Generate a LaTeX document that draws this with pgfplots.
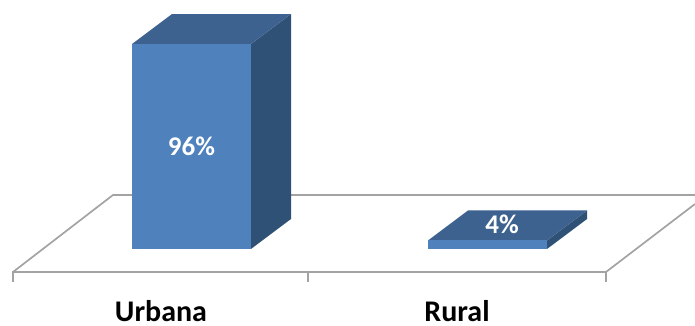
\documentclass[border=0pt]{standalone}
\usepackage{pgfplots}
\pgfplotsset{compat=1.18}
\usepackage{fontspec}
\setmainfont{Carlito}
\definecolor{barfront}{HTML}{4F81BD}
\definecolor{bartop}{HTML}{3D6290}
\definecolor{barside}{HTML}{305176}
\definecolor{floorline}{HTML}{A3A3A3}
\begin{document}
\begin{tikzpicture}[x=1pt,y=1pt]
\begin{axis}[
  scale only axis,
  width=695pt, height=326pt,
  xmin=0, xmax=695,
  ymin=-36.07, ymax=116.63,
  axis lines=none,
  clip=true,
]
% keep the whole plot area in the page
\path (rel axis cs:0,0) rectangle (rel axis cs:1,1);
% floor: back edge, side edges, front edge and its ticks
\addplot[floorline, line width=1.7pt] coordinates {(13,-10.77) (113,25.29) (695,25.29)};
\addplot[floorline, line width=1.7pt] coordinates {(606,-10.77) (695,21.08)};
\addplot[floorline, line width=1.7pt] coordinates {(13,-15.46) (13,-10.77) (606,-10.77) (606,-15.46)};
\addplot[floorline, line width=1.7pt] coordinates {(308,-10.77) (308,-15.46)};
% Urbana, 96
\addplot[fill=barside, draw=none] coordinates {(251,0) (291,14.05) (291,110.05) (251,96)} -- cycle;
\addplot[fill=bartop, draw=none] coordinates {(132,96) (251,96) (291,110.05) (172,110.05)} -- cycle;
\addplot[fill=barfront, draw=none] coordinates {(132,0) (251,0) (251,96) (132,96)} -- cycle;
% Rural, 4
\addplot[fill=barside, draw=none] coordinates {(547,0) (587,14.05) (587,18.05) (547,4)} -- cycle;
\addplot[fill=bartop, draw=none] coordinates {(428,4) (547,4) (587,18.05) (468,18.05)} -- cycle;
\addplot[fill=barfront, draw=none] coordinates {(428,0) (547,0) (547,4) (428,4)} -- cycle;
% value and category labels
\node[text=white, font=\fontsize{27}{27}\selectfont\bfseries] at (axis cs:191.5,48) {96\%};
\node[text=white, font=\fontsize{27}{27}\selectfont\bfseries] at (axis cs:502,11.5) {4\%};
\node[anchor=base, inner sep=0pt, text=black, font=\fontsize{30}{30}\selectfont\bfseries] at (axis cs:161,-33.9) {Urbana};
\node[anchor=base, inner sep=0pt, text=black, font=\fontsize{30}{30}\selectfont\bfseries] at (axis cs:457,-33.9) {Rural};
\end{axis}
\end{tikzpicture}
\end{document}
